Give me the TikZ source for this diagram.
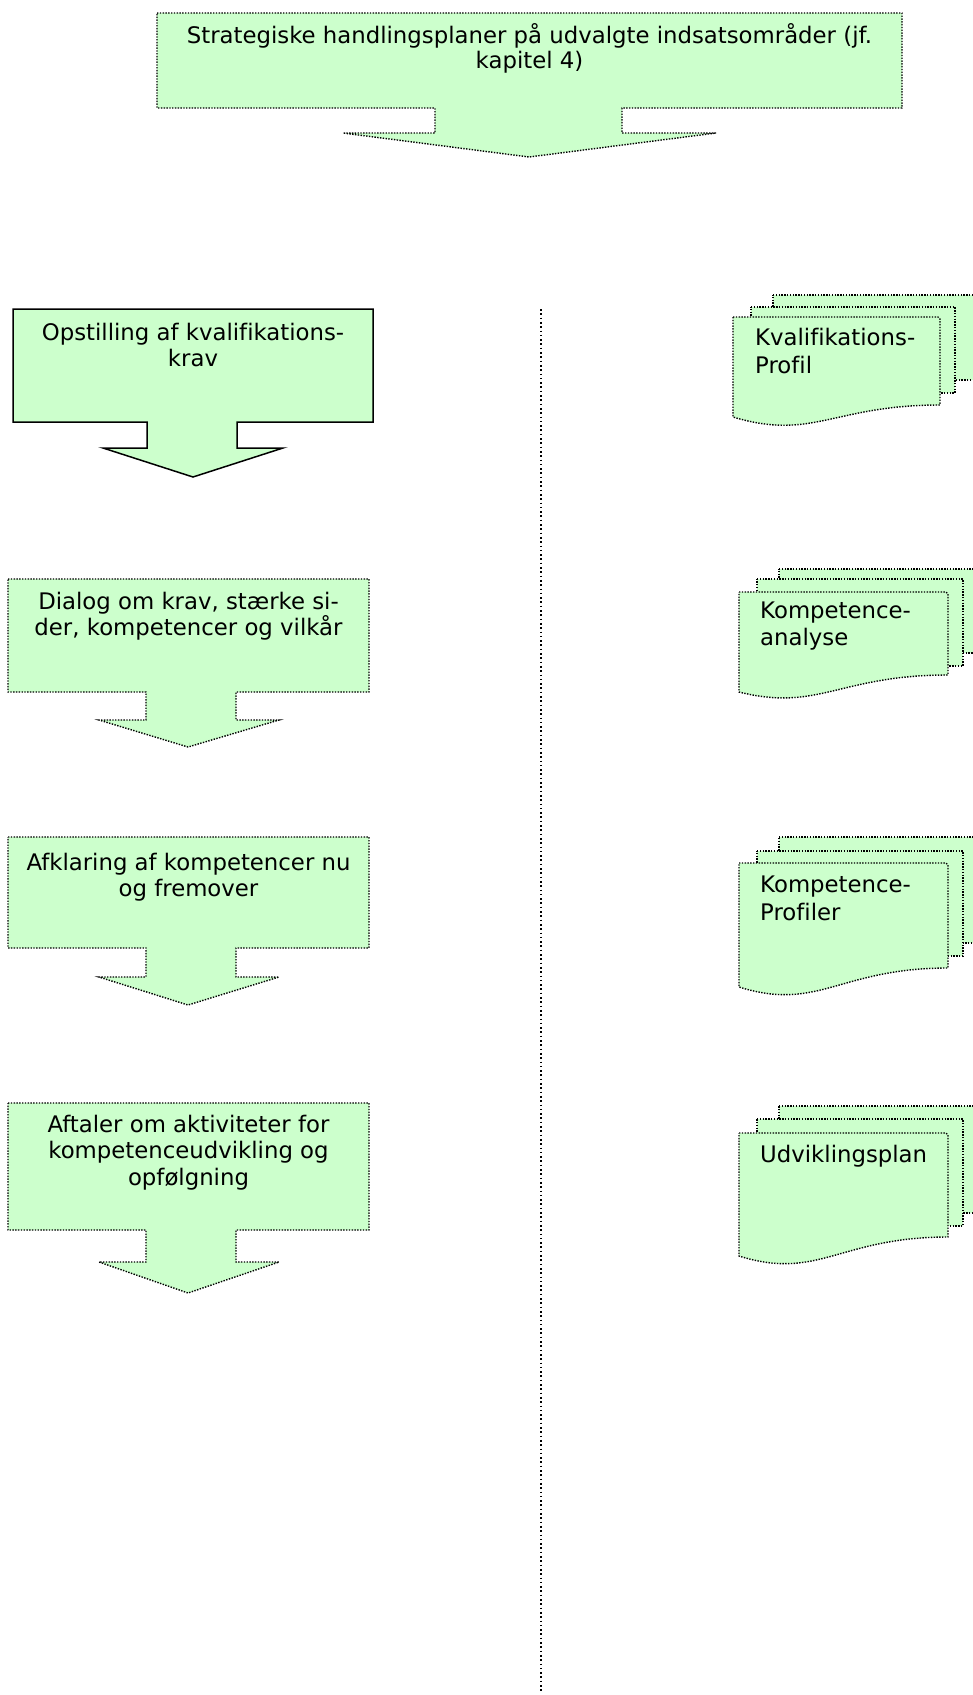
\documentclass[tikz,border=0pt]{standalone}
\usepackage{fontspec}
\setmainfont[Ligatures={NoCommon}]{DejaVu Sans}
\definecolor{docgreen}{HTML}{CCFFCC}
\tikzset{
  dotb/.style={draw=black, line width=1.4pt, dash pattern=on 1.4pt off 1.4pt, fill=docgreen, line join=miter},
  solidb/.style={draw=black, line width=1.5pt, fill=docgreen, line join=miter},
  sepline/.style={draw=black, line width=1.6pt, dash pattern=on 1.6pt off 2.7pt},
  lbl/.style={font=\fontsize{22.8}{26.5}\selectfont, align=center, inner sep=0pt, anchor=base, text=black},
  doclbl/.style={font=\fontsize{22.8}{27.5}\selectfont, align=left, inner sep=0pt, anchor=base west, text=black},
}
% left callout: #1 style, #2 top, #3 bottom, #4 stem bottom, #5 tip
\newcommand{\leftcallout}[5]{%
  \path[#1] (8,#2) -- (369,#2) -- (369,#3) -- (236,#3) -- (236,#4) -- (279,#4)
    -- (188,#5) -- (99,#4) -- (146,#4) -- (146,#3) -- (8,#3) -- cycle;}
% multi document: #1 front L, #2 front R, #3 front T, #4 BR, #5 BL, #6 dip,
% #7 second T, #8 second BR, #9 third T ; third BR = second BR - 13
\newcommand{\multidoc}[9]{%
  \path[dotb] ({#1+40},#9) -- (985,#9) -- (985,{#8-13}) -- ({#1+40},{#8-13}) -- cycle;
  \path[dotb] ({#1+18},#7) -- ({#2+15},#7) -- ({#2+15},#8) -- ({#1+18},#8) -- cycle;
  \path[dotb] (#1,#3) -- ({#2-2},#3) -- (#2,{#3+2}) -- (#2,#4)
    .. controls ({#1+100},#4) and ({#1+80},{#5+#6}) .. (#1,#5) -- cycle;}
\begin{document}
\begin{tikzpicture}[x=1pt,y=-1pt]
\useasboundingbox (0,0) rectangle (973,1695);
\begin{scope}
\clip (0,0) rectangle (973,1695);

% top callout
\path[dotb] (157,13) -- (902,13) -- (902,108) -- (622,108) -- (622,133) -- (716,133)
  -- (529,157) -- (343,133) -- (435,133) -- (435,108) -- (157,108) -- cycle;
\node[lbl, font=\fontsize{22.8}{25}\selectfont] (top) at (529.5,68)
  {Strategiske handlingsplaner på udvalgte indsatsområder (jf.\\kapitel 4)};

% left column
\path[solidb] (13,309) -- (373,309) -- (373,422) -- (237,422) -- (237,448) -- (283,448)
  -- (193,477) -- (103,448) -- (147,448) -- (147,422) -- (13,422) -- cycle;
\node[lbl] (krav) at (193,366.5) {Opstilling af kvalifikations-\\krav};

\leftcallout{dotb}{579}{692}{720}{747}
\node[lbl] (dialog) at (188.5,635.5) {Dialog om krav, stærke si-\\der, kompetencer og vilkår};

\leftcallout{dotb}{837}{948}{977}{1005}
\node[lbl] (afklaring) at (188.5,896.5) {Afklaring af kompetencer nu\\og fremover};

\leftcallout{dotb}{1103}{1230}{1262}{1293}
\node[lbl] (aftaler) at (188.5,1185) {Aftaler om aktiviteter for\\kompetenceudvikling og\\opfølgning};

% separator
\coordinate (septop) at (541,309);
\coordinate (sepbot) at (541,1693);
\draw[sepline] (septop) -- (sepbot);

% right column documents
\multidoc{733}{940}{317}{405}{417}{24}{307}{393}{295}
\node[doclbl] (kprofil) at (755,373) {Kvalifikations-\\Profil};

\multidoc{739}{948}{592}{675}{692}{20}{579}{666}{569}
\node[doclbl, font=\fontsize{22.8}{27}\selectfont] (kanalyse) at (760,645) {Kompetence-\\analyse};

\multidoc{739}{948}{863}{968}{987}{25}{851}{956}{837}
\node[doclbl] (kprofiler) at (760,920) {Kompetence-\\Profiler};

\multidoc{739}{948}{1133}{1237}{1256}{25}{1119}{1226}{1106}
\node[doclbl] (uplan) at (760,1162) {Udviklingsplan};
\end{scope}
\end{tikzpicture}
\end{document}
